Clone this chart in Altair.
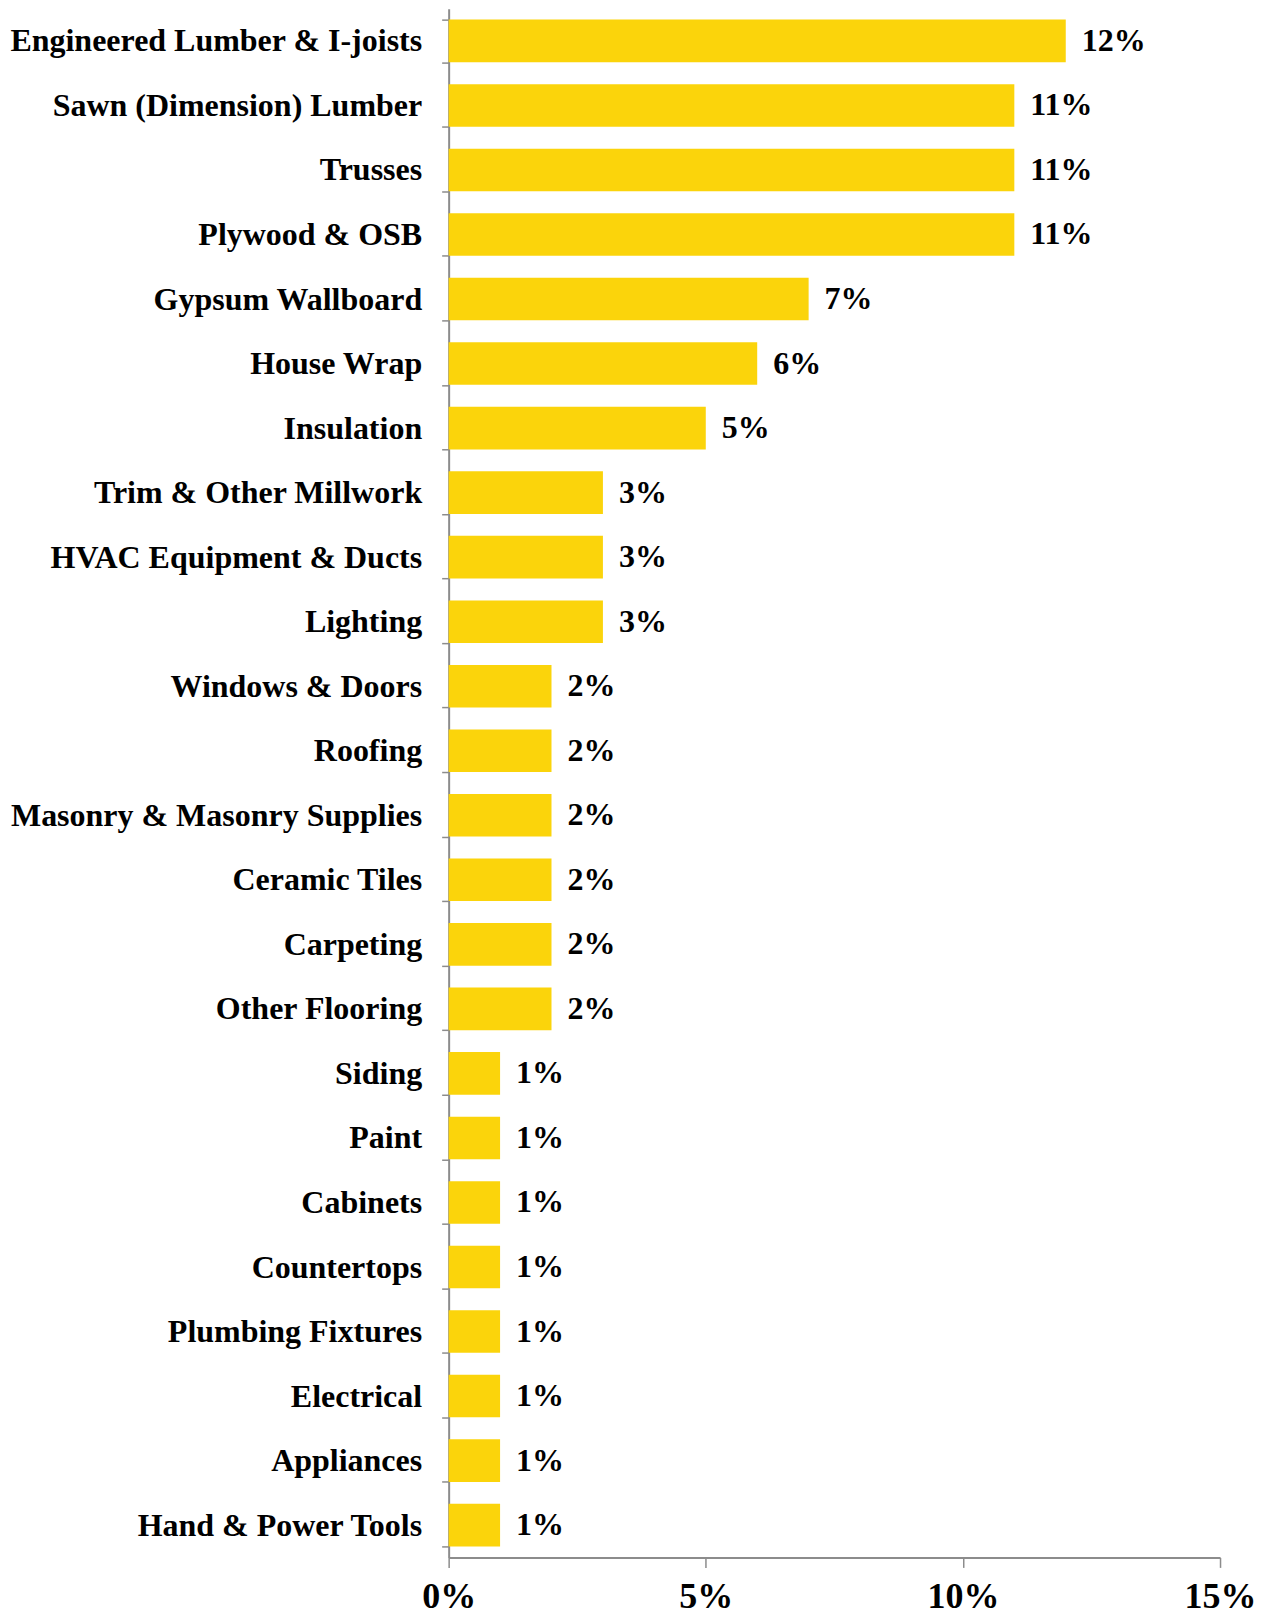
import altair as alt
import pandas as pd

categories = ["Engineered Lumber & I-joists", "Sawn (Dimension) Lumber", "Trusses", "Plywood & OSB",
              "Gypsum Wallboard", "House Wrap", "Insulation", "Trim & Other Millwork",
              "HVAC Equipment & Ducts", "Lighting", "Windows & Doors", "Roofing",
              "Masonry & Masonry Supplies", "Ceramic Tiles", "Carpeting", "Other Flooring",
              "Siding", "Paint", "Cabinets", "Countertops", "Plumbing Fixtures", "Electrical",
              "Appliances", "Hand & Power Tools"]
values = [12, 11, 11, 11, 7, 6, 5, 3, 3, 3, 2, 2, 2, 2, 2, 2, 1, 1, 1, 1, 1, 1, 1, 1]
x_ticks = [0, 0.05, 0.10, 0.15]

df = pd.DataFrame({"category": categories, "value": [v / 100 for v in values],
                   "label": [f"{v}%" for v in values]})

FONT = "Liberation Serif"
AX = "#8c8c8c"

base = alt.Chart(df).encode(
    y=alt.Y("category:N", sort=categories, title=None,
            scale=alt.Scale(paddingInner=0.34, paddingOuter=0.17),
            axis=alt.Axis(tickBand="extent", labelFont=FONT, labelFontWeight="bold",
                          labelFontSize=32, labelColor="black", labelPadding=20,
                          tickSize=7, tickColor=AX, domainColor=AX, domainWidth=2, tickWidth=1.5,
                          labelLimit=600)),
)

bars = base.mark_bar(color="#FBD40B").encode(
    x=alt.X("value:Q", title=None,
            scale=alt.Scale(domain=[0, 0.15], nice=False),
            axis=alt.Axis(values=x_ticks, format=".0%", grid=False, labelFont=FONT,
                          labelFontWeight="bold", labelFontSize=36, labelColor="black",
                          labelFlush=False, labelPadding=12, tickSize=10, tickColor=AX,
                          domainColor=AX, domainWidth=2, tickWidth=1.5))
)

text = base.mark_text(align="left", dx=16, font=FONT, fontWeight="bold", fontSize=32,
                      color="black").encode(
    x=alt.X("value:Q"),
    text="label:N"
)

chart = (bars + text).properties(
    width=772, height=1550,
    autosize=alt.AutoSizeParams(type="none"),
    padding={"left": 441, "top": 0, "right": 40, "bottom": 60},
).configure(background="white").configure_view(stroke=None, strokeWidth=0)

chart.save("out.html", embed_options={"renderer": "svg", "actions": False})
